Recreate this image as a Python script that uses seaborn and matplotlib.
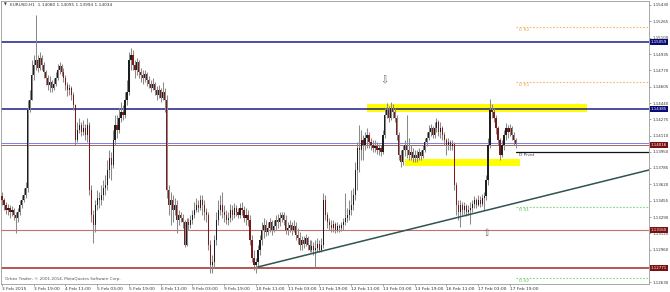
import matplotlib
matplotlib.use("Agg")
import matplotlib.pyplot as plt
from matplotlib.patches import Rectangle
import matplotlib.transforms as mtransforms
import numpy as np
import pandas as pd
import seaborn as sns

# ---------------- data ----------------
symbol_title = "EURUSD,H1  1.14080 1.14095 1.13994 1.14034"
copyright_text = "Orbex Trader, \u00a9 2001-2014, MetaQuotes Software Corp."

open_first = 1.1350
close = [
    1.1346, 1.1341, 1.1336, 1.1338, 1.1334, 1.1336, 1.1331, 1.1328, 1.1334, 1.1341,
    1.1346, 1.1351, 1.1358, 1.1437, 1.1447, 1.1472, 1.1482, 1.1487, 1.1479, 1.1489,
    1.1482, 1.1475, 1.1469, 1.1462, 1.1465, 1.1459, 1.1463, 1.1469, 1.1477, 1.1481,
    1.1475, 1.1469, 1.1462, 1.1457, 1.1459, 1.1452, 1.1442, 1.1407, 1.1417, 1.1422,
    1.1415, 1.1419, 1.1412, 1.1422, 1.1356, 1.1331, 1.1321, 1.1341, 1.1348, 1.1346,
    1.1351, 1.1358, 1.1361, 1.1376, 1.1389, 1.1381, 1.1407, 1.1422, 1.1417, 1.1429,
    1.1435, 1.1432, 1.1447, 1.1455, 1.1487, 1.1492, 1.1482, 1.1477, 1.1485, 1.1475,
    1.1472, 1.1469, 1.1473, 1.1467, 1.1463, 1.1459, 1.1463, 1.1457, 1.1452, 1.1457,
    1.1449, 1.1455, 1.1447, 1.1356, 1.1341, 1.1346, 1.1336, 1.1341, 1.1326, 1.1331,
    1.1328, 1.1324, 1.1301, 1.1324, 1.1321, 1.1326, 1.1331, 1.1336, 1.1341, 1.1338,
    1.1346, 1.1341, 1.1334, 1.1331, 1.1301, 1.1281, 1.1284, 1.1306, 1.1326, 1.1336,
    1.1341, 1.1334, 1.1331, 1.1326, 1.1328, 1.1336, 1.1331, 1.1338, 1.1334, 1.1331,
    1.1338, 1.1336, 1.1328, 1.1331, 1.1326, 1.1306, 1.1288, 1.1281, 1.1284, 1.1296,
    1.1306, 1.1316, 1.1321, 1.1314, 1.1318, 1.1324, 1.1316, 1.1320, 1.1326, 1.1324,
    1.1328, 1.1331, 1.1326, 1.1316, 1.1318, 1.1321, 1.1316, 1.1320, 1.1311, 1.1308,
    1.1301, 1.1306, 1.1302, 1.1308, 1.1301, 1.1296, 1.1300, 1.1296, 1.1298, 1.1302,
    1.1296, 1.1301, 1.1346, 1.1331, 1.1324, 1.1321, 1.1318, 1.1322, 1.1316, 1.1320,
    1.1318, 1.1321, 1.1324, 1.1328, 1.1331, 1.1336, 1.1341, 1.1351, 1.1376, 1.1399,
    1.1397, 1.1407, 1.1402, 1.1409, 1.1412, 1.1405, 1.1402, 1.1399, 1.1401, 1.1397,
    1.1399, 1.1395, 1.1412, 1.1432, 1.1437, 1.1429, 1.1439, 1.1435, 1.1429, 1.1412,
    1.1392, 1.1385, 1.1397, 1.1402, 1.1397, 1.1392, 1.1395, 1.1389, 1.1392, 1.1389,
    1.1395, 1.1391, 1.1397, 1.1405, 1.1409, 1.1415, 1.1419, 1.1412, 1.1419, 1.1425,
    1.1415, 1.1419, 1.1412, 1.1407, 1.1402, 1.1405, 1.1401, 1.1403, 1.1361, 1.1341,
    1.1334, 1.1341, 1.1336, 1.1340, 1.1334, 1.1336, 1.1338, 1.1342, 1.1346, 1.1341,
    1.1346, 1.1342, 1.1348, 1.1350, 1.1366, 1.1402, 1.1437, 1.1435, 1.1429, 1.1419,
    1.1407, 1.1392, 1.1402, 1.1412, 1.1419, 1.1415, 1.1419, 1.1412, 1.1407, 1.1403,
]
high = [
    1.1354, 1.1348, 1.1344, 1.1342, 1.1341, 1.1340, 1.1338, 1.1334, 1.1338, 1.1346,
    1.1351, 1.1358, 1.1364, 1.1447, 1.1457, 1.1487, 1.1492, 1.1533, 1.1492, 1.1496,
    1.1492, 1.1485, 1.1477, 1.1472, 1.1471, 1.1467, 1.1469, 1.1475, 1.1483, 1.1485,
    1.1483, 1.1479, 1.1472, 1.1465, 1.1463, 1.1461, 1.1455, 1.1443, 1.1425, 1.1429,
    1.1425, 1.1427, 1.1423, 1.1429, 1.1425, 1.1361, 1.1336, 1.1346, 1.1356, 1.1354,
    1.1361, 1.1366, 1.1371, 1.1387, 1.1397, 1.1395, 1.1417, 1.1432, 1.1432, 1.1439,
    1.1445, 1.1442, 1.1455, 1.1467, 1.1496, 1.1500, 1.1498, 1.1487, 1.1489, 1.1487,
    1.1479, 1.1477, 1.1477, 1.1475, 1.1471, 1.1467, 1.1469, 1.1465, 1.1461, 1.1462,
    1.1459, 1.1465, 1.1459, 1.1452, 1.1361, 1.1354, 1.1351, 1.1348, 1.1346, 1.1336,
    1.1334, 1.1332, 1.1326, 1.1328, 1.1328, 1.1331, 1.1336, 1.1344, 1.1348, 1.1346,
    1.1351, 1.1351, 1.1346, 1.1338, 1.1334, 1.1306, 1.1291, 1.1311, 1.1334, 1.1346,
    1.1351, 1.1354, 1.1341, 1.1336, 1.1334, 1.1342, 1.1341, 1.1343, 1.1341, 1.1338,
    1.1343, 1.1344, 1.1340, 1.1338, 1.1336, 1.1331, 1.1311, 1.1296, 1.1288, 1.1301,
    1.1311, 1.1324, 1.1328, 1.1326, 1.1324, 1.1328, 1.1326, 1.1326, 1.1331, 1.1332,
    1.1334, 1.1334, 1.1334, 1.1331, 1.1324, 1.1326, 1.1324, 1.1326, 1.1324, 1.1318,
    1.1314, 1.1310, 1.1310, 1.1312, 1.1310, 1.1306, 1.1306, 1.1304, 1.1306, 1.1308,
    1.1306, 1.1308, 1.1353, 1.1351, 1.1334, 1.1328, 1.1326, 1.1326, 1.1324, 1.1324,
    1.1322, 1.1324, 1.1328, 1.1353, 1.1338, 1.1346, 1.1356, 1.1358, 1.1385, 1.1405,
    1.1422, 1.1417, 1.1412, 1.1415, 1.1419, 1.1415, 1.1409, 1.1407, 1.1407, 1.1405,
    1.1403, 1.1402, 1.1417, 1.1439, 1.1444, 1.1441, 1.1445, 1.1443, 1.1439, 1.1432,
    1.1415, 1.1397, 1.1402, 1.1407, 1.1432, 1.1409, 1.1402, 1.1399, 1.1397, 1.1397,
    1.1399, 1.1397, 1.1402, 1.1409, 1.1415, 1.1422, 1.1423, 1.1421, 1.1425, 1.1429,
    1.1427, 1.1425, 1.1421, 1.1415, 1.1409, 1.1409, 1.1407, 1.1407, 1.1405, 1.1364,
    1.1346, 1.1346, 1.1344, 1.1344, 1.1342, 1.1341, 1.1344, 1.1346, 1.1350, 1.1348,
    1.1351, 1.1350, 1.1352, 1.1354, 1.1371, 1.1409, 1.1448, 1.1443, 1.1439, 1.1432,
    1.1421, 1.1409, 1.1407, 1.1417, 1.1424, 1.1422, 1.1423, 1.1421, 1.1415, 1.1409,
]
low = [
    1.1341, 1.1336, 1.1332, 1.1331, 1.1328, 1.1330, 1.1326, 1.1313, 1.1324, 1.1331,
    1.1338, 1.1344, 1.1348, 1.1354, 1.1435, 1.1447, 1.1467, 1.1477, 1.1475, 1.1477,
    1.1477, 1.1469, 1.1462, 1.1457, 1.1455, 1.1455, 1.1457, 1.1461, 1.1467, 1.1473,
    1.1471, 1.1465, 1.1457, 1.1451, 1.1452, 1.1447, 1.1437, 1.1402, 1.1405, 1.1414,
    1.1411, 1.1412, 1.1407, 1.1405, 1.1351, 1.1324, 1.1303, 1.1314, 1.1336, 1.1338,
    1.1341, 1.1346, 1.1351, 1.1356, 1.1368, 1.1366, 1.1378, 1.1402, 1.1409, 1.1414,
    1.1425, 1.1427, 1.1429, 1.1442, 1.1452, 1.1477, 1.1477, 1.1469, 1.1472, 1.1469,
    1.1465, 1.1463, 1.1465, 1.1461, 1.1459, 1.1455, 1.1457, 1.1452, 1.1447, 1.1449,
    1.1445, 1.1447, 1.1435, 1.1348, 1.1331, 1.1321, 1.1324, 1.1331, 1.1313, 1.1321,
    1.1324, 1.1318, 1.1299, 1.1300, 1.1316, 1.1318, 1.1322, 1.1328, 1.1334, 1.1334,
    1.1336, 1.1331, 1.1326, 1.1324, 1.1296, 1.1272, 1.1272, 1.1278, 1.1301, 1.1321,
    1.1331, 1.1328, 1.1324, 1.1322, 1.1321, 1.1324, 1.1326, 1.1328, 1.1330, 1.1328,
    1.1328, 1.1331, 1.1324, 1.1321, 1.1320, 1.1301, 1.1284, 1.1276, 1.1273, 1.1278,
    1.1291, 1.1301, 1.1308, 1.1310, 1.1311, 1.1314, 1.1311, 1.1314, 1.1316, 1.1318,
    1.1320, 1.1324, 1.1321, 1.1312, 1.1311, 1.1314, 1.1311, 1.1314, 1.1306, 1.1302,
    1.1296, 1.1296, 1.1298, 1.1300, 1.1296, 1.1294, 1.1294, 1.1291, 1.1279, 1.1294,
    1.1294, 1.1294, 1.1298, 1.1326, 1.1318, 1.1316, 1.1314, 1.1314, 1.1313, 1.1314,
    1.1314, 1.1315, 1.1316, 1.1321, 1.1324, 1.1326, 1.1331, 1.1336, 1.1346, 1.1356,
    1.1374, 1.1387, 1.1387, 1.1397, 1.1399, 1.1399, 1.1397, 1.1395, 1.1395, 1.1393,
    1.1392, 1.1391, 1.1393, 1.1409, 1.1429, 1.1425, 1.1427, 1.1429, 1.1425, 1.1407,
    1.1387, 1.1379, 1.1381, 1.1391, 1.1389, 1.1387, 1.1387, 1.1385, 1.1385, 1.1385,
    1.1387, 1.1387, 1.1389, 1.1395, 1.1401, 1.1407, 1.1411, 1.1409, 1.1409, 1.1415,
    1.1411, 1.1409, 1.1407, 1.1402, 1.1392, 1.1397, 1.1397, 1.1397, 1.1356, 1.1331,
    1.1326, 1.1319, 1.1331, 1.1332, 1.1330, 1.1331, 1.1322, 1.1334, 1.1338, 1.1338,
    1.1340, 1.1339, 1.1340, 1.1336, 1.1346, 1.1361, 1.1399, 1.1429, 1.1425, 1.1413,
    1.1402, 1.1387, 1.1390, 1.1397, 1.1407, 1.1409, 1.1411, 1.1407, 1.1402, 1.1399,
]

x_tick_labels = ["3 Feb 2015", "3 Feb 19:00", "4 Feb 11:00", "5 Feb 03:00", "5 Feb 19:00",
                 "6 Feb 11:00", "9 Feb 03:00", "9 Feb 19:00", "10 Feb 11:00", "11 Feb 03:00",
                 "11 Feb 19:00", "12 Feb 11:00", "13 Feb 03:00", "13 Feb 19:00", "16 Feb 11:00",
                 "17 Feb 03:00", "17 Feb 19:00"]
bars_per_label = 16

y_tick_labels = ["1.15430", "1.15265", "1.15100", "1.14935", "1.14770", "1.14605", "1.14440",
                 "1.14275", "1.14110", "1.13950", "1.13785", "1.13620", "1.13455", "1.13290",
                 "1.13125", "1.12960", "1.12795", "1.12630"]

# horizontal levels drawn on the chart
level_prices = [1.15059, 1.14385, 1.14016, 1.13160, 1.12771]
level_labels = ["1.15059", "1.14385", "1.14016", "1.13160", "1.12771"]
bid_price = 1.14034

# daily pivots
pivot_names = ["D R2", "D R1", "D Pivot", "D S1", "D S2"]
pivot_prices = [1.15204, 1.14652, 1.13943, 1.13391, 1.12670]
pivot_start_bar = 259

# supply / demand zones  (start bar, end bar, low price, high price)
zone_start = [184, 203]
zone_end = [295, 261]
zone_low = [1.14350, 1.13805]
zone_high = [1.14430, 1.13875]

# trend line anchors
trend_bar = [129, 326]
trend_price = [1.12786, 1.13764]

# arrow markers
arrow_down = (192.7, 1.14673)
arrow_up = (244.0, 1.13129)

# ---------------- figure ----------------
sns.set_theme(style="white")
plt.rcParams["font.family"] = ["DejaVu Sans"]

W, H = 670, 292
fig = plt.figure(figsize=(W / 100, H / 100), dpi=100, facecolor="white")
ax_left_px, ax_right_px, ax_top_px, ax_bottom_px = 1, 649, 1, 284
ax = fig.add_axes([ax_left_px / W, (H - ax_bottom_px) / H,
                   (ax_right_px - ax_left_px) / W, (ax_bottom_px - ax_top_px) / H])
ax.set_facecolor("white")

px_per_bar = 1.984
x_min = -0.5
x_max = x_min + (ax_right_px - ax_left_px) / px_per_bar
y_top = 1.15470
y_bot = 1.12614
ax.set_xlim(x_min, x_max)
ax.set_ylim(y_bot, y_top)

n = len(close)
idx = np.arange(n)
opens = np.concatenate([[open_first], np.array(close[:-1])])
closes = np.array(close)
df = pd.DataFrame({"bar": idx, "open": opens, "close": closes,
                   "high": np.array(high), "low": np.array(low)})
df["bull"] = df["close"] >= df["open"]

# zones
for s, e, lo, hi in zip(zone_start, zone_end, zone_low, zone_high):
    ax.add_patch(Rectangle((s, lo), e - s, hi - lo, facecolor="#ffff00",
                           edgecolor="none", zorder=1))

# horizontal lines
ax.axhline(level_prices[0], color="#1c1c8c", lw=1.1, zorder=2)
ax.axhline(level_prices[1], color="#1c1c8c", lw=1.1, zorder=2)
ax.axhline(bid_price, color="#7c7cf0", lw=0.7, zorder=2)
ax.axhline(level_prices[2], color="#a06868", lw=0.7, zorder=2)
ax.axhline(level_prices[3], color="#c47070", lw=0.8, zorder=2)
ax.axhline(level_prices[4], color="#a83838", lw=1.2, zorder=2)

# pivot lines
piv_colors = ["#f6b86a", "#f6b86a", "#111111", "#80d880", "#80d880"]
piv_text_colors = ["#f0a850", "#f0a850", "#444444", "#5cc45c", "#5cc45c"]
for name, p, c, tc in zip(pivot_names, pivot_prices, piv_colors, piv_text_colors):
    if name == "D Pivot":
        ax.plot([pivot_start_bar, x_max], [p, p], color=c, lw=0.9, zorder=2)
    else:
        ax.plot([pivot_start_bar, x_max], [p, p], color=c, lw=0.8,
                ls=(0, (1.5, 1.5)), zorder=2)
    ax.text(pivot_start_bar + 1.5, p - 0.00006, name, color=tc, fontsize=3.2,
            va="top", ha="left", zorder=6)

# trend line (seaborn)
t_slope = (trend_price[1] - trend_price[0]) / (trend_bar[1] - trend_bar[0])
tl = pd.DataFrame({"bar": [trend_bar[0], x_max],
                   "price": [trend_price[0], trend_price[0] + t_slope * (x_max - trend_bar[0])]})
sns.lineplot(data=tl, x="bar", y="price", ax=ax, color="#2e5350", lw=1.1, zorder=4)

# candles
wick_col = "#8a8a8a"
ax.vlines(df["bar"], df["low"], df["high"], color=wick_col, lw=0.75, zorder=3)
body_bottom = np.minimum(df["open"], df["close"])
body_h = np.maximum(np.abs(df["close"] - df["open"]), 0.000015)
colors = np.where(df["bull"], "#1e1e1e", "#7d1a1a")
ax.bar(df["bar"], body_h, bottom=body_bottom, width=0.6, color=colors,
       edgecolor="none", zorder=3.5)

# arrows
ax.text(arrow_down[0], arrow_down[1], "\u21e9", fontsize=7, color="#6a6a6a",
        ha="center", va="center", zorder=6)
ax.text(arrow_up[0], arrow_up[1], "\u21e7", fontsize=7, color="#6a6a6a",
        ha="center", va="center", zorder=6)

# axes styling
for sp in ax.spines.values():
    sp.set_color("#9a9a9a")
    sp.set_linewidth(0.6)
ax.grid(False)

ax.yaxis.tick_right()
ax.set_yticks([float(v) for v in y_tick_labels])
ax.set_yticklabels(y_tick_labels)
ax.tick_params(axis="y", which="both", right=True, length=1.5, width=0.5, color="#808080",
               labelsize=2.9, labelcolor="#333333", pad=0.8)

xt = [k * bars_per_label for k in range(len(x_tick_labels))]
ax.set_xticks(xt)
ax.set_xticklabels(x_tick_labels, ha="left")
ax.tick_params(axis="x", bottom=True, length=1.5, width=0.5, color="#808080",
               labelsize=3.2, labelcolor="#333333", pad=1.0)
ax.set_xlabel("")
ax.set_ylabel("")

# price boxes on the right axis
blend = mtransforms.blended_transform_factory(ax.transAxes, ax.transData)
box_cols = ["#0a0a78", "#0a0a78", "#7a1010", "#7a1010", "#7a1010"]
for p, lab, bc in zip(level_prices, level_labels, box_cols):
    ax.text(1.0025, p, lab, transform=blend, fontsize=2.9, color="white", ha="left",
            va="center", zorder=10, clip_on=False,
            bbox=dict(boxstyle="square,pad=0.25", facecolor=bc, edgecolor="none"))

# title and copyright
ax.text(3 / 648, 1 - 4 / 283, "\u25bc", transform=ax.transAxes, fontsize=2.6,
        color="#333333", ha="left", va="center", zorder=6)
ax.text(9 / 648, 1 - 4 / 283, symbol_title, transform=ax.transAxes, fontsize=3.1,
        color="#333333", ha="left", va="center", zorder=6)
ax.text(4 / 648, 5 / 283, copyright_text, transform=ax.transAxes, fontsize=3.0,
        color="#555555", ha="left", va="center", zorder=6)

fig.savefig("out.png", dpi=100, facecolor="white")
